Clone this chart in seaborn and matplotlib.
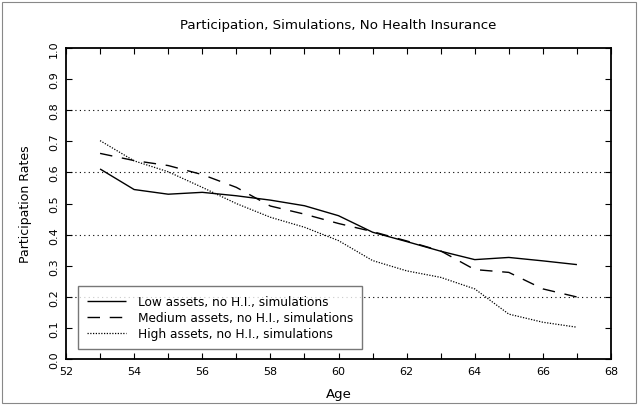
import matplotlib
matplotlib.use("Agg")
import matplotlib.pyplot as plt
from matplotlib.patches import Rectangle
from matplotlib.ticker import MultipleLocator
import seaborn as sns
import pandas as pd

ages = [53, 54, 55, 56, 57, 58, 59, 60, 61, 62, 63, 64, 65, 66, 67]
low = [0.611, 0.545, 0.530, 0.536, 0.525, 0.511, 0.493, 0.461, 0.408, 0.378, 0.347, 0.320, 0.327, 0.316, 0.304]
medium = [0.661, 0.638, 0.622, 0.593, 0.552, 0.492, 0.466, 0.436, 0.410, 0.380, 0.348, 0.288, 0.279, 0.226, 0.200]
high = [0.702, 0.637, 0.602, 0.552, 0.500, 0.456, 0.424, 0.381, 0.317, 0.284, 0.263, 0.226, 0.145, 0.119, 0.103]
labels = ["Low assets, no H.I., simulations",
          "Medium assets, no H.I., simulations",
          "High assets, no H.I., simulations"]

sns.set_style("ticks")
plt.rcParams['font.family'] = ['DejaVu Sans']
plt.rcParams['text.color'] = 'black'
plt.rcParams['axes.labelcolor'] = 'black'
plt.rcParams['xtick.color'] = 'black'
plt.rcParams['ytick.color'] = 'black'
plt.rcParams['axes.edgecolor'] = 'black'

fig = plt.figure(figsize=(6.38, 4.06), dpi=100)
ax = fig.add_axes([66/638, 1 - 360.3/406, (611 - 66)/638, (360.3 - 48.8)/406])

styles = [(0, ()), (0, (9, 7)), (0, (1, 1.2))]
widths = [1.0, 1.0, 0.9]
for vals, lab, ls, lw in zip([low, medium, high], labels, styles, widths):
    df = pd.DataFrame({"Age": ages, "Rate": vals})
    sns.lineplot(data=df, x="Age", y="Rate", ax=ax, color="black",
                 linestyle=ls, linewidth=lw, label=lab)

for g in [0.2, 0.4, 0.6, 0.8]:
    ax.axhline(g, color="black", linestyle=(0, (1, 3)), linewidth=0.8, zorder=0)

ax.set_xlim(52, 68)
ax.set_ylim(0, 1)
ax.xaxis.set_major_locator(MultipleLocator(2))
ax.xaxis.set_minor_locator(MultipleLocator(1))
ax.yaxis.set_major_locator(MultipleLocator(0.1))
ax.set_yticklabels([f"{v:.1f}" for v in ax.get_yticks()], rotation=90, va="center")
ax.tick_params(which="both", direction="in", top=True, right=True,
               labelsize=8, length=4, width=0.8, pad=5)
ax.tick_params(which="minor", length=4)
for s in ax.spines.values():
    s.set_linewidth(1.3)

ax.set_xlabel("Age", fontsize=9.5, labelpad=8)
ax.set_ylabel("Participation Rates", fontsize=9, labelpad=12)
ax.set_title("Participation, Simulations, No Health Insurance", fontsize=9.6, pad=14)

leg = ax.legend(loc="lower left", bbox_to_anchor=(0.022, 0.033), fontsize=8.7,
                frameon=True, fancybox=False, edgecolor="#555555",
                handlelength=3.2, handletextpad=1.0, borderpad=0.75,
                labelspacing=0.25, borderaxespad=0)
leg.get_frame().set_linewidth(1.0)

fig.patches.append(Rectangle((2/638, 2/406), 634/638, 401/406, transform=fig.transFigure,
                             fill=False, edgecolor="#888888", linewidth=0.8))

fig.savefig("out.png", dpi=100)
